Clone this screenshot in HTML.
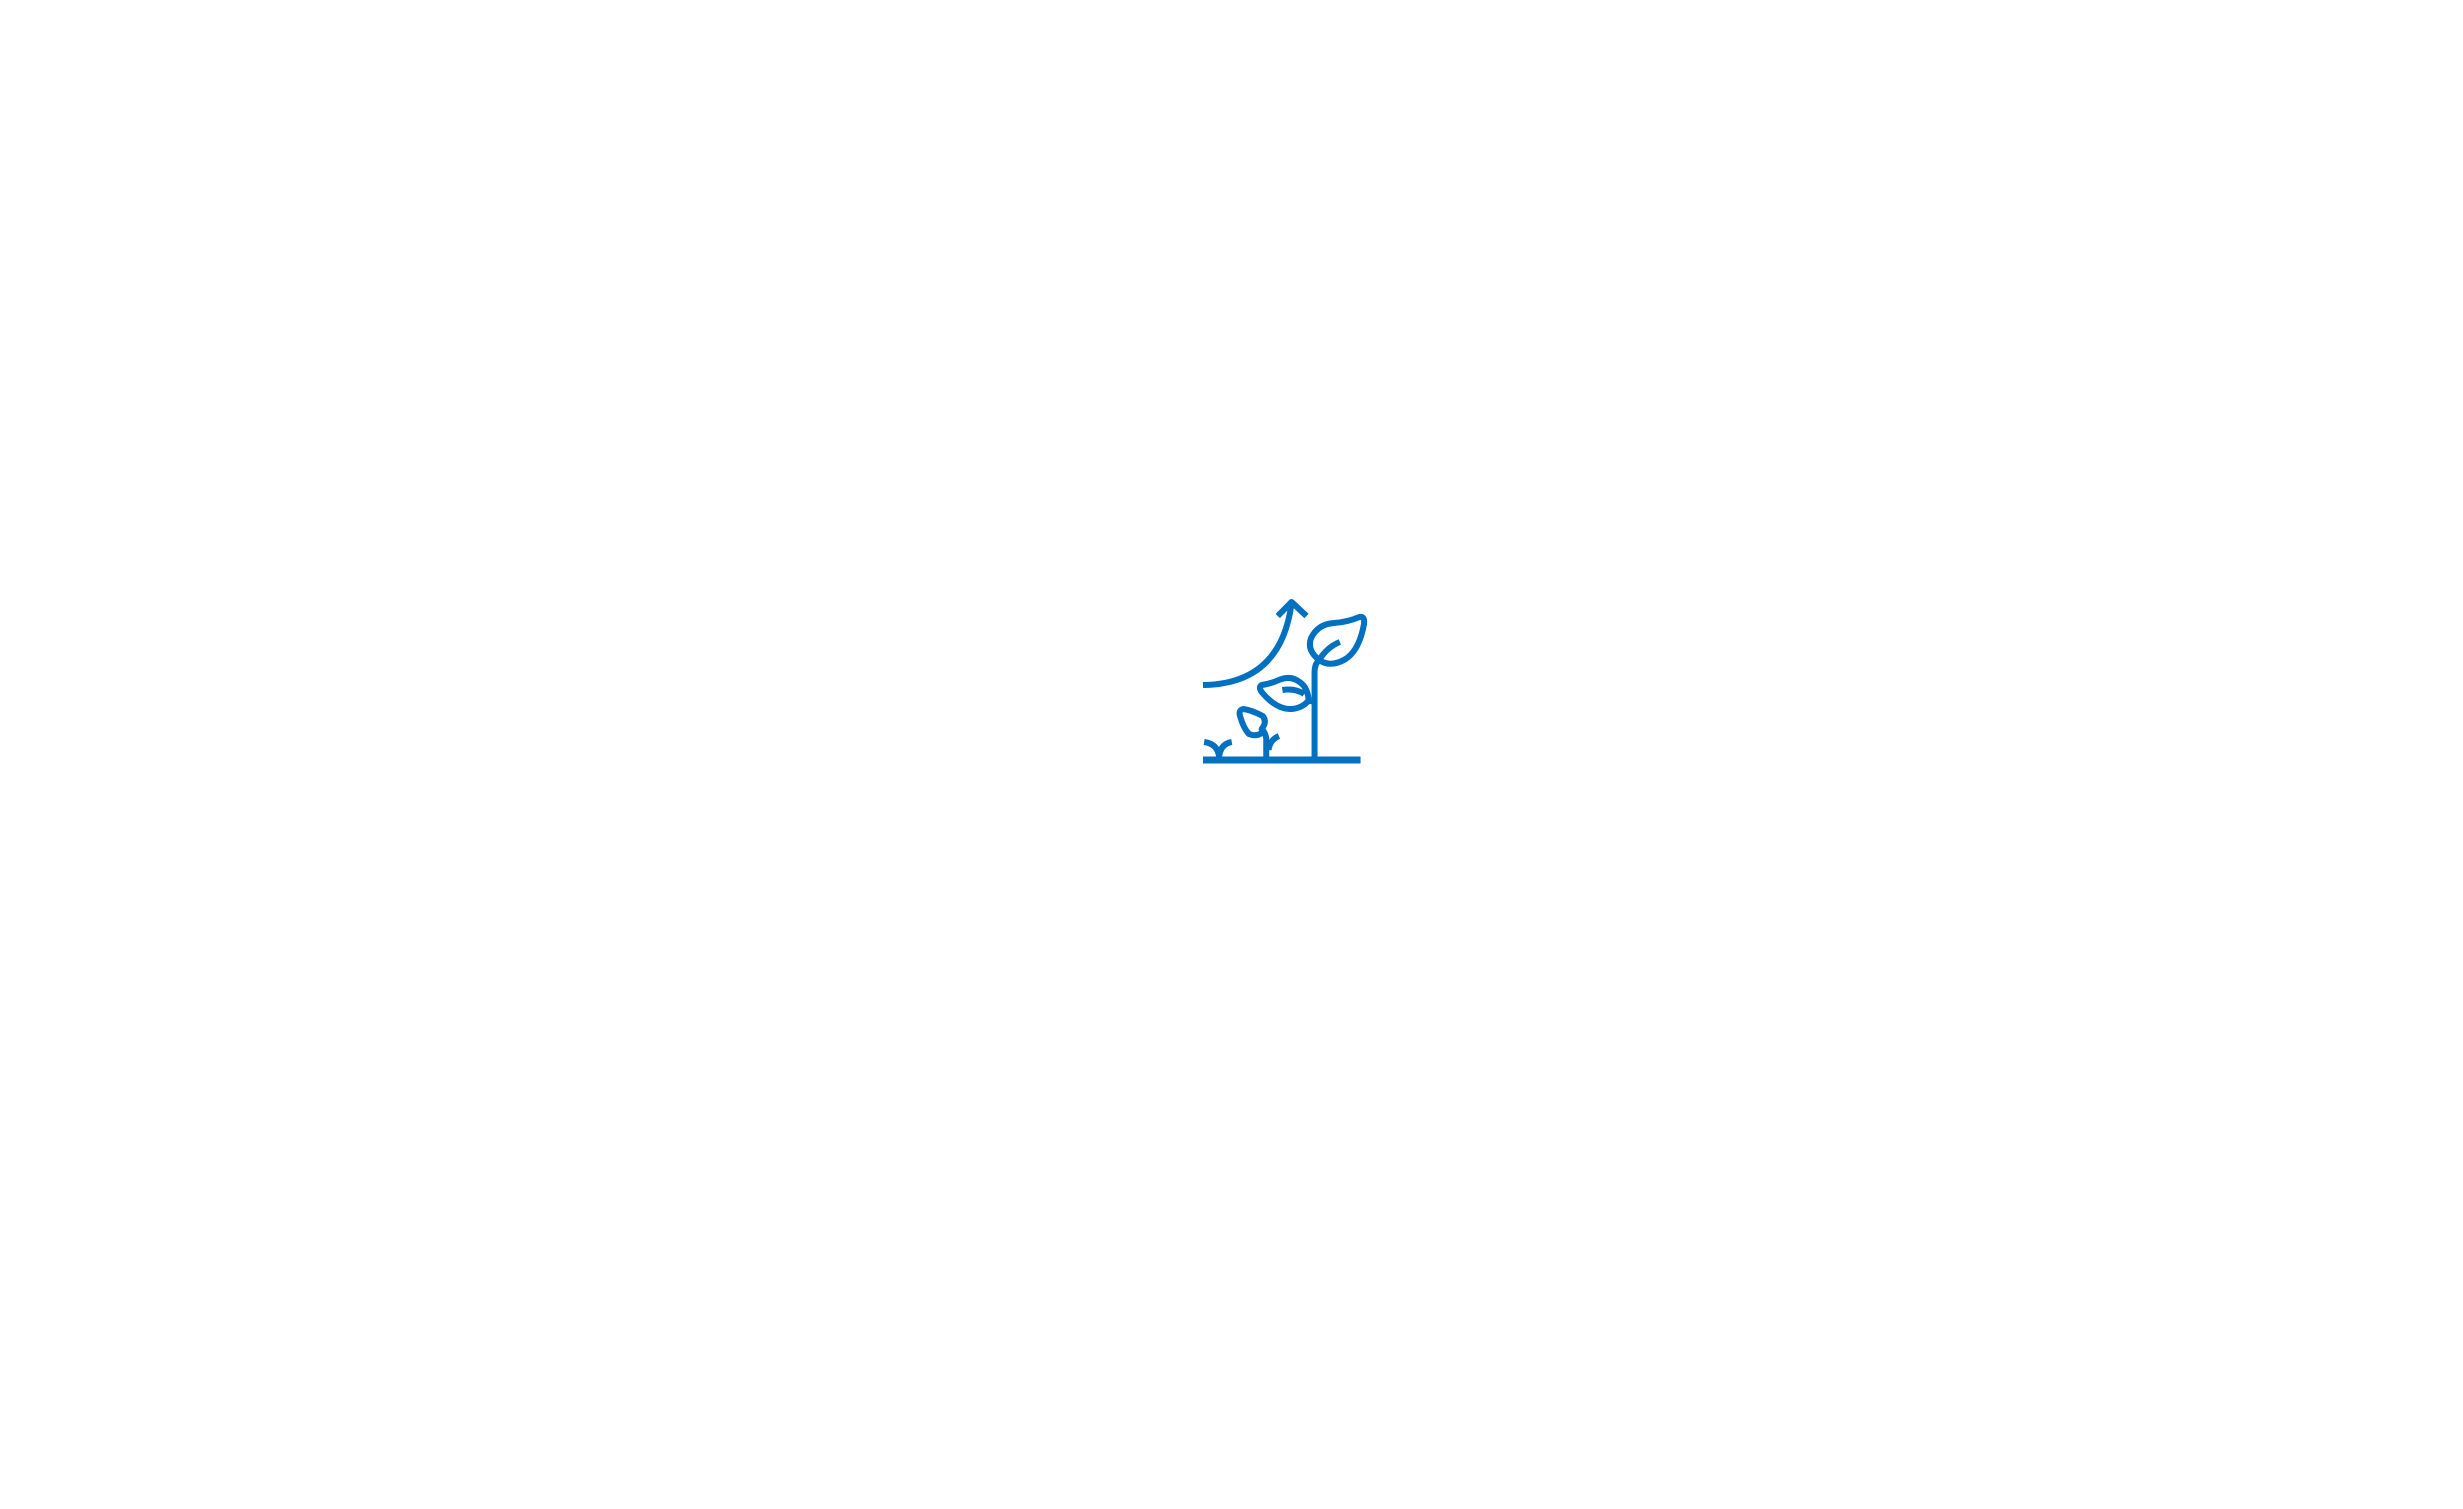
<!DOCTYPE html>
<html><head><meta charset="utf-8"><style>
html,body{margin:0;padding:0;background:#fff;width:2463px;height:1509px;overflow:hidden}
svg{position:absolute;left:0;top:0}
path,line{vector-effect:non-scaling-stroke}
</style></head><body>
<svg width="2463" height="1509" viewBox="0 0 2463 1509" fill="none" stroke="#0070c0" stroke-width="6" stroke-linejoin="round">
<g transform="translate(1203,0) scale(1.15,1) translate(-1176,0)">
<line x1="1176" y1="760" x2="1313" y2="760" stroke-width="7"/>
<path d="M1273 760 L1273 672 Q1273 664 1277 660"/>
<path d="M1277 660 Q1266 650 1270 638 Q1276 624 1290 623 Q1302 622 1312 617 Q1317 616 1316 624 Q1312 650 1300 659 Q1287 668 1277 660 Z"/>
<path d="M1277 660 Q1284 647 1295 642"/>
<path d="M1176 685 Q1244 684 1253 603"/>
<path d="M1241 616 L1253 602 L1266 616"/>
<path d="M1268 704 Q1268 688 1260 682 Q1252 675 1242 680 Q1234 684 1227 685 Q1224 687 1227 692 Q1240 710 1253 709 Q1263 708 1268 700"/>
<path d="M1245 690 Q1256 688 1264 694"/>
<path d="M1231 760 L1231 738 Q1230 732 1227 729 Q1232 722 1228 716 Q1218 710 1211 709 Q1207 710 1208 715 Q1211 728 1216 734 Q1222 737 1227 733"/>
<path d="M1233 750 Q1234 740 1242 736"/>
<path d="M1177 742 Q1189 744 1190 757 Q1191 744 1201 742"/>
</g>
</svg>
</body></html>
